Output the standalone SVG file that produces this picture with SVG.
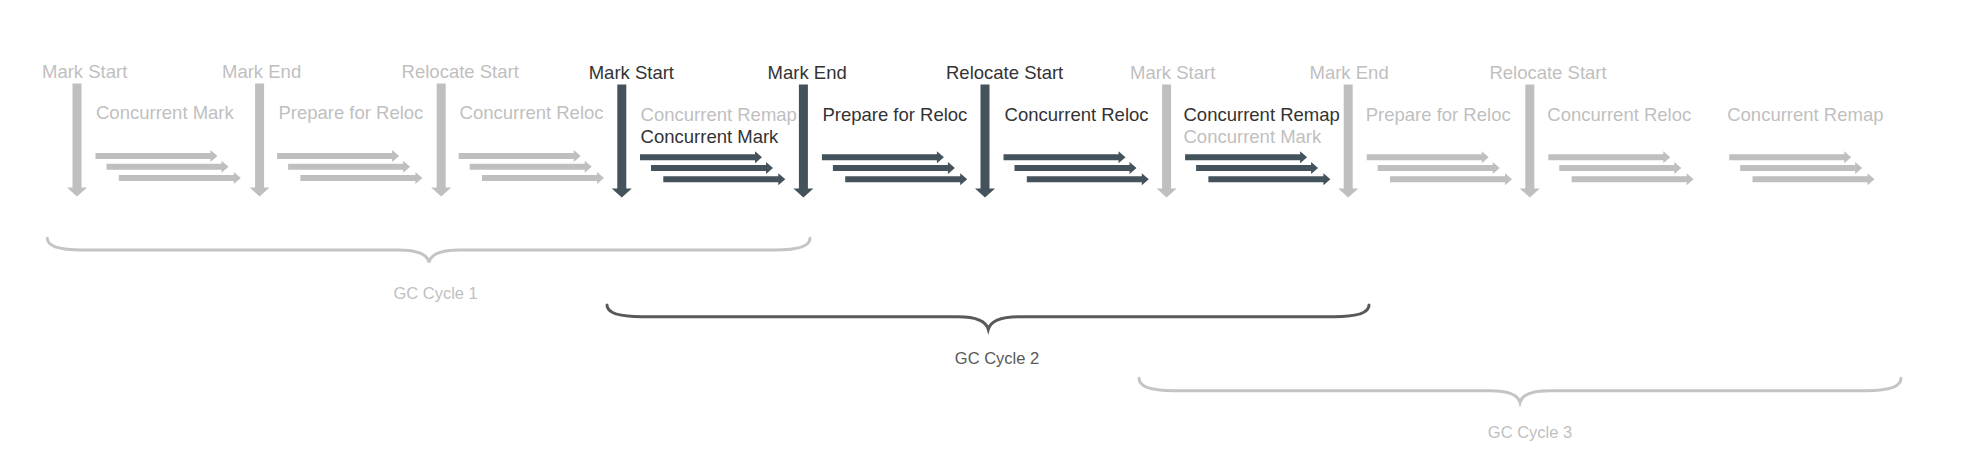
<svg xmlns="http://www.w3.org/2000/svg" xmlns:xlink="http://www.w3.org/1999/xlink" width="1978" height="460" viewBox="0 0 1978 460">
<style>
text{font-family:"Liberation Sans",Arial,sans-serif;}
.lbl{font-size:18.5px;}
.cyc{font-size:16.5px;text-anchor:middle;}
.g{fill:#bfbfbf;}
.d{fill:#333333;}
.ga{fill:#bfbfbf;}
.da{fill:#44525c;}
.brace{fill:none;stroke-width:3;stroke-linecap:round;}
.bg{stroke:#c4c4c4;}
.bd{stroke:#595959;}
.cd{fill:#595959;}
</style>
<defs>
<path id="va" d="M-4.5,0 H4.5 V104 H10 L0,113 L-10,104 H-4.5 Z"/>
<g id="ht">
<path d="M0,-3 H115 V-6 L122,0 L115,6 V3 H0 Z"/>
<path d="M11,7.7 H126 V4.7 L133,10.7 L126,16.7 V13.7 H11 Z"/>
<path d="M23.3,19 H138.3 V16 L145.3,22 L138.3,28 V25 H23.3 Z"/>
</g>
</defs>
<rect width="1978" height="460" fill="#ffffff"/>

<g id="events">
<g id="ev1"><use xlink:href="#va" href="#va" x="77" y="83.5" class="ga"/><text class="lbl g" x="42" y="77.7">Mark Start</text></g>
<g id="ev2"><use xlink:href="#va" href="#va" x="259.6" y="83.5" class="ga"/><text class="lbl g" x="222" y="77.7">Mark End</text></g>
<g id="ev3"><use xlink:href="#va" href="#va" x="441.2" y="83.5" class="ga"/><text class="lbl g" x="401.6" y="77.7">Relocate Start</text></g>
<g id="ev4"><use xlink:href="#va" href="#va" x="621.8" y="84.5" class="da"/><text class="lbl d" x="588.7" y="79">Mark Start</text></g>
<g id="ev5"><use xlink:href="#va" href="#va" x="803.4" y="84.5" class="da"/><text class="lbl d" x="767.6" y="79">Mark End</text></g>
<g id="ev6"><use xlink:href="#va" href="#va" x="985" y="84.5" class="da"/><text class="lbl d" x="946" y="79">Relocate Start</text></g>
<g id="ev7"><use xlink:href="#va" href="#va" x="1166.6" y="84.5" class="ga"/><text class="lbl g" x="1130" y="79">Mark Start</text></g>
<g id="ev8"><use xlink:href="#va" href="#va" x="1348.2" y="84.5" class="ga"/><text class="lbl g" x="1309.5" y="79">Mark End</text></g>
<g id="ev9"><use xlink:href="#va" href="#va" x="1529.8" y="84.5" class="ga"/><text class="lbl g" x="1489.4" y="79">Relocate Start</text></g>
</g>

<g id="phases">
<g id="ph1"><use xlink:href="#ht" href="#ht" x="95.5" y="156" class="ga"/><text class="lbl g" x="96" y="119.3">Concurrent Mark</text></g>
<g id="ph2"><use xlink:href="#ht" href="#ht" x="277.1" y="156" class="ga"/><text class="lbl g" x="278.4" y="119.3">Prepare for Reloc</text></g>
<g id="ph3"><use xlink:href="#ht" href="#ht" x="458.7" y="156" class="ga"/><text class="lbl g" x="459.6" y="119.3">Concurrent Reloc</text></g>
<g id="ph4"><use xlink:href="#ht" href="#ht" x="640" y="157.3" class="da"/><text class="lbl g" x="640.6" y="121">Concurrent Remap</text><text class="lbl d" x="640.6" y="142.7">Concurrent Mark</text></g>
<g id="ph5"><use xlink:href="#ht" href="#ht" x="821.9" y="157.3" class="da"/><text class="lbl d" x="822.4" y="121">Prepare for Reloc</text></g>
<g id="ph6"><use xlink:href="#ht" href="#ht" x="1003.5" y="157.3" class="da"/><text class="lbl d" x="1004.6" y="121">Concurrent Reloc</text></g>
<g id="ph7"><use xlink:href="#ht" href="#ht" x="1185.1" y="157.3" class="da"/><text class="lbl d" x="1183.5" y="121">Concurrent Remap</text><text class="lbl g" x="1183.5" y="142.7">Concurrent Mark</text></g>
<g id="ph8"><use xlink:href="#ht" href="#ht" x="1366.7" y="157.3" class="ga"/><text class="lbl g" x="1365.7" y="121">Prepare for Reloc</text></g>
<g id="ph9"><use xlink:href="#ht" href="#ht" x="1548.3" y="157.3" class="ga"/><text class="lbl g" x="1547.3" y="121">Concurrent Reloc</text></g>
<g id="ph10"><use xlink:href="#ht" href="#ht" x="1729.2" y="157.3" class="ga"/><text class="lbl g" x="1727.2" y="121">Concurrent Remap</text></g>
</g>

<g id="cycles">
<g id="cycle1">
<path class="brace bg" d="M47.3,238.3 C47.3,246 59,250 82,250 H399 C417,250 427,254 429,262.3 C431,254 441,250 459,250 H775 C798,250 810,246 810,238.3"/>
<text class="cyc g" x="435.6" y="299.3">GC Cycle 1</text>
</g>
<g id="cycle2">
<path class="brace bd" d="M607,305 C607,312.7 619,316.7 642,316.7 H958 C976,316.7 986,321 988.3,329.3 C990.6,321 1000.6,316.7 1018.6,316.7 H1334 C1357,316.7 1369,312.7 1369,305"/>
<text class="cyc cd" x="997" y="364">GC Cycle 2</text>
</g>
<g id="cycle3">
<path class="brace bg" d="M1139,378.3 C1139,386.5 1151,390.7 1174,390.7 H1490 C1508,390.7 1518,395 1520,402.3 C1522,395 1532,390.7 1550,390.7 H1866 C1889,390.7 1901,386.5 1901,378.3"/>
<text class="cyc g" x="1530" y="438.3">GC Cycle 3</text>
</g>
</g>
</svg>
